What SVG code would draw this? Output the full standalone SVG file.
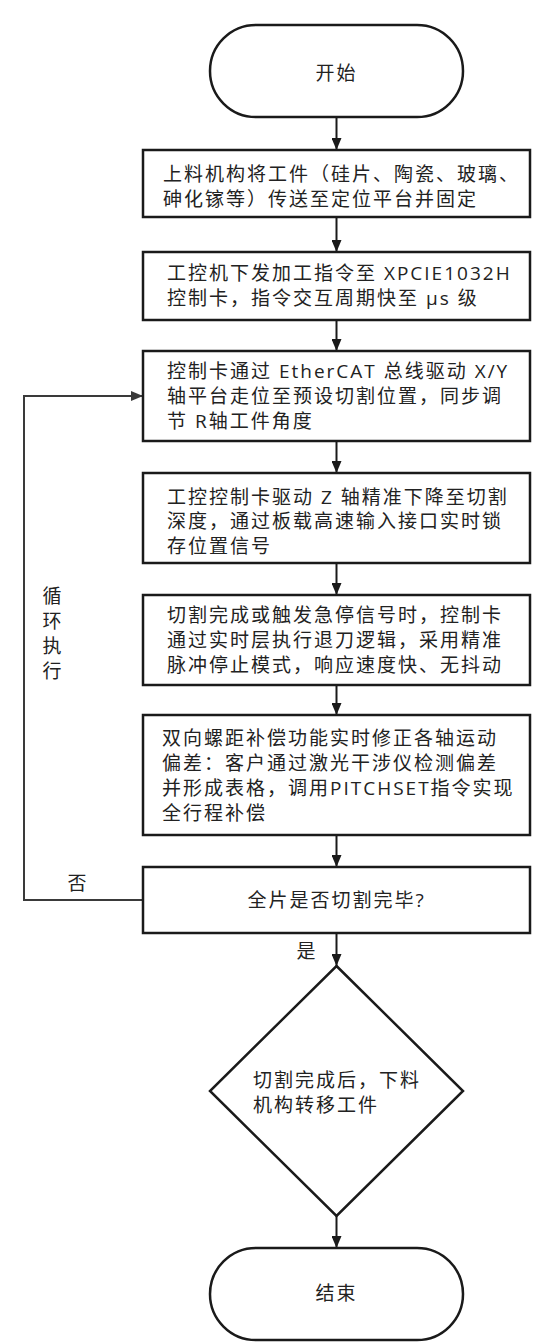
<svg xmlns="http://www.w3.org/2000/svg" width="546" height="1343" viewBox="0 0 546 1343">
<style>
.bg{fill:#ffffff}
.node{fill:#ffffff;stroke:#1a1a1a;stroke-width:2.5}
.t{font-family:"Open Sans","Noto Sans CJK SC",sans-serif;font-size:19px;letter-spacing:2px;fill:#222222}
.c{text-anchor:middle}
.edge{fill:none;stroke:#1a1a1a;stroke-width:2}
.loop{fill:none;stroke:#3a3a3a;stroke-width:2}
</style>
<defs>
<marker id="arr" markerUnits="userSpaceOnUse" markerWidth="12" markerHeight="10" refX="12" refY="5" orient="auto">
<path d="M0,0 L12,5 L0,10 z" fill="#1a1a1a"/>
</marker>
<marker id="arrL" markerUnits="userSpaceOnUse" markerWidth="12" markerHeight="10" refX="12" refY="5" orient="auto">
<path d="M0,0 L12,5 L0,10 z" fill="#3a3a3a"/>
</marker>
</defs>
<rect class="bg" x="0" y="0" width="546" height="1343"/>

<g id="connectors">
<path class="edge" d="M336.5,117 V150" marker-end="url(#arr)"/>
<path class="edge" d="M336.5,217 V252" marker-end="url(#arr)"/>
<path class="edge" d="M336.5,320 V351" marker-end="url(#arr)"/>
<path class="edge" d="M336.5,441 V473" marker-end="url(#arr)"/>
<path class="edge" d="M336.5,563 V595" marker-end="url(#arr)"/>
<path class="edge" d="M336.5,685 V715" marker-end="url(#arr)"/>
<path class="edge" d="M336.5,835 V867" marker-end="url(#arr)"/>
<path class="edge" d="M336.5,933 V966" marker-end="url(#arr)"/>
<path class="edge" d="M336.5,1216 V1248" marker-end="url(#arr)"/>
<path class="loop" d="M143,900 H24 V396 H143" marker-end="url(#arrL)"/>
<text class="t c" x="307" y="958">是</text>
<text class="t c" x="78" y="890">否</text>
<text class="t c" x="53" y="603">循</text>
<text class="t c" x="53" y="628">环</text>
<text class="t c" x="53" y="653">执</text>
<text class="t c" x="53" y="678">行</text>
</g>

<g id="start">
<rect class="node" x="210" y="25" width="253" height="92" rx="46" ry="46"/>
<text class="t c" x="336.5" y="80">开始</text>
</g>

<g id="step1">
<rect class="node" x="143" y="150" width="387" height="67"/>
<text class="t" x="163" y="181">上料机构将工件（硅片、陶瓷、玻璃、</text>
<text class="t" x="163" y="206">砷化镓等）传送至定位平台并固定</text>
</g>

<g id="step2">
<rect class="node" x="143" y="252" width="387" height="68"/>
<text class="t" x="167" y="280">工控机下发加工指令至 XPCIE1032H</text>
<text class="t" x="167" y="305">控制卡，指令交互周期快至 μs 级</text>
</g>

<g id="step3">
<rect class="node" x="143" y="351" width="387" height="90"/>
<text class="t" x="167" y="378">控制卡通过 EtherCAT 总线驱动 X/Y</text>
<text class="t" x="167" y="403">轴平台走位至预设切割位置，同步调</text>
<text class="t" x="167" y="428">节 R轴工件角度</text>
</g>

<g id="step4">
<rect class="node" x="143" y="473" width="387" height="90"/>
<text class="t" x="167" y="503.5">工控控制卡驱动 Z 轴精准下降至切割</text>
<text class="t" x="167" y="528">深度，通过板载高速输入接口实时锁</text>
<text class="t" x="167" y="553">存位置信号</text>
</g>

<g id="step5">
<rect class="node" x="143" y="595" width="387" height="90"/>
<text class="t" x="167" y="622">切割完成或触发急停信号时，控制卡</text>
<text class="t" x="167" y="647">通过实时层执行退刀逻辑，采用精准</text>
<text class="t" x="167" y="672">脉冲停止模式，响应速度快、无抖动</text>
</g>

<g id="step6">
<rect class="node" x="143" y="715" width="387" height="120"/>
<text class="t" x="162" y="745">双向螺距补偿功能实时修正各轴运动</text>
<text class="t" x="162" y="770">偏差：客户通过激光干涉仪检测偏差</text>
<text class="t" x="162" y="795">并形成表格，调用PITCHSET指令实现</text>
<text class="t" x="162" y="820">全行程补偿</text>
</g>

<g id="decision">
<rect class="node" x="143" y="867" width="387" height="66"/>
<text class="t c" x="336.5" y="907">全片是否切割完毕?</text>
</g>

<g id="unload">
<polygon class="node" points="336.5,966 463,1091 336.5,1216 210,1091"/>
<text class="t" x="253" y="1087">切割完成后，下料</text>
<text class="t" x="253" y="1112">机构转移工件</text>
</g>

<g id="end">
<rect class="node" x="210" y="1248" width="253" height="92" rx="46" ry="46"/>
<text class="t c" x="336.5" y="1300">结束</text>
</g>
</svg>
